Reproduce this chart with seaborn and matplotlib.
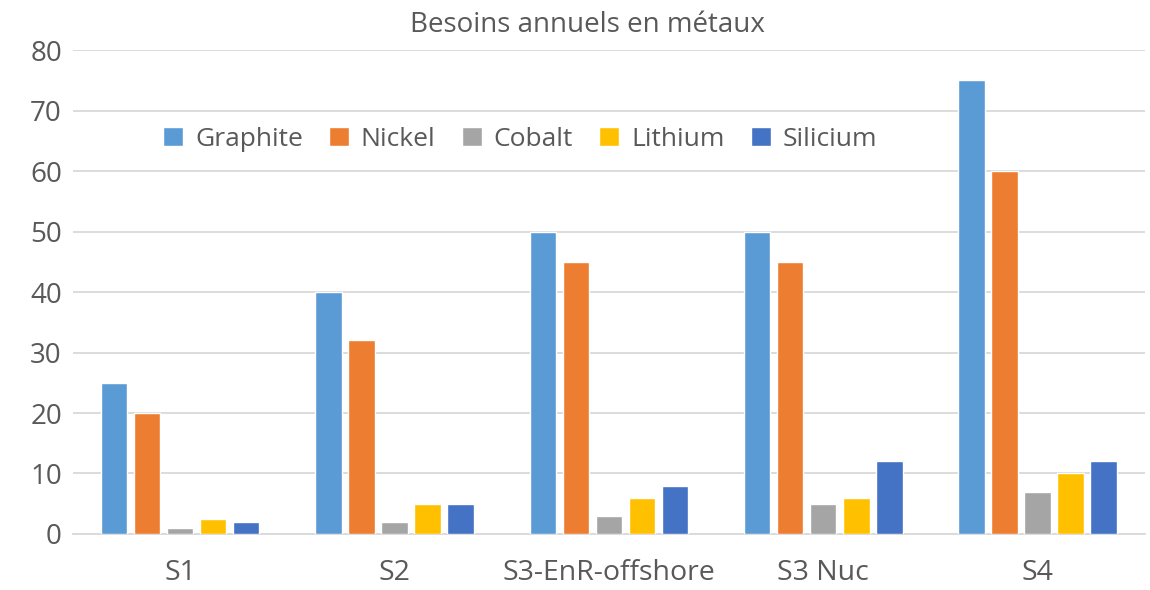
import matplotlib
matplotlib.use('Agg')
import matplotlib.pyplot as plt
import seaborn as sns
import pandas as pd

categories = ['S1', 'S2', 'S3-EnR-offshore', 'S3 Nuc', 'S4']
metals = ['Graphite', 'Nickel', 'Cobalt', 'Lithium', 'Silicium']
graphite = [25, 40, 50, 50, 75]
nickel = [20, 32, 45, 45, 60]
cobalt = [1, 2, 3, 5, 7]
lithium = [2.5, 5, 6, 6, 10]
silicium = [2, 5, 8, 12, 12]
colors = ['#5B9BD5', '#ED7D31', '#A5A5A5', '#FFC000', '#4472C4']

rows = []
for metal, values in zip(metals, [graphite, nickel, cobalt, lithium, silicium]):
    for cat, v in zip(categories, values):
        rows.append({'scenario': cat, 'metal': metal, 'value': v})
df = pd.DataFrame(rows)

sns.set_style('white')
plt.rcParams['font.family'] = ['Open Sans', 'DejaVu Sans']
text_color = '#595959'

fig = plt.figure(figsize=(11.5, 5.9), dpi=100)
ax = fig.add_axes([0.0635, 0.095, 0.932, 0.82])

sns.barplot(data=df, x='scenario', y='value', hue='metal', order=categories,
            hue_order=metals, palette=colors, width=0.77, gap=0.2,
            saturation=1, ax=ax, zorder=3)

ax.set_ylim(0, 80)
ax.set_yticks(range(0, 81, 10))
ax.yaxis.grid(True, color='#D9D9D9', linewidth=1.3, zorder=0)
ax.set_axisbelow(True)
for side in ['top', 'right', 'left']:
    ax.spines[side].set_visible(False)
ax.spines['bottom'].set_color('#D9D9D9')
ax.spines['bottom'].set_linewidth(1.3)
ax.tick_params(axis='x', length=0, labelsize=20.5, colors=text_color, pad=18)
ax.tick_params(axis='y', length=0, labelsize=20, colors=text_color, pad=8)
ax.set_xlabel('')
ax.set_ylabel('')
ax.set_title('Besoins annuels en métaux', fontsize=20, color=text_color, pad=13, x=0.48)

leg = ax.legend(loc='center left', bbox_to_anchor=(0.062, 0.816), ncol=5,
                frameon=False, fontsize=19, handlelength=0.75, handleheight=0.75,
                handletextpad=0.45, columnspacing=1.0)
for t in leg.get_texts():
    t.set_color(text_color)

fig.savefig('out.png', dpi=100)
